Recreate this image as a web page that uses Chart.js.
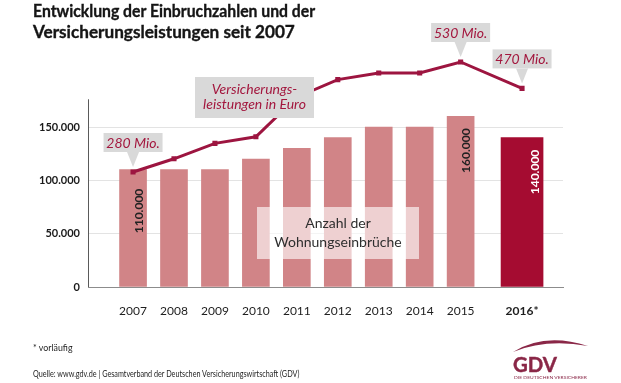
<!DOCTYPE html>
<html>
<head>
<meta charset="utf-8">
<script src="https://cdn.jsdelivr.net/npm/chart.js@4/dist/chart.umd.min.js"></script>
<style>
  html, body { margin: 0; padding: 0; background: #fff; }
  #wrap { position: relative; width: 621px; height: 383px; overflow: hidden; font-family: Lato, "Open Sans", sans-serif; }
  #c { position: absolute; left: 0; top: 0; }
  .txt { position: absolute; white-space: nowrap; transform-origin: left top; }
  .title { left: 33px; font-weight: bold; font-size: 16.5px; line-height: 21px; color: #151515; -webkit-text-stroke: 0.35px #151515; }
  .foot { left: 33px; font-size: 9.5px; line-height: 11px; color: #1e1e1e; }
  svg.logo { position: absolute; left: 0; top: 0; }
</style>
</head>
<body>
<div id="wrap">
  <canvas id="c" width="621" height="383"></canvas>
  <div class="txt title" style="top:1px" data-fit="282">Entwicklung der Einbruchzahlen und der</div>
  <div class="txt title" style="top:22px" data-fit="262">Versicherungsleistungen seit 2007</div>
  <div class="txt foot" style="top:342px" data-fit="40">* vorläufig</div>
  <div class="txt foot" style="top:368px" data-fit="266">Quelle: www.gdv.de | Gesamtverband der Deutschen Versicherungswirtschaft (GDV)</div>
  <svg class="logo" width="621" height="383" viewBox="0 0 621 383">
    <path d="M513,352 Q545,332 588,346 Q546,338.5 513,352 Z" fill="#8a2747"/>
    <text x="513" y="372" font-family="Lato, sans-serif" font-weight="bold" font-size="20" fill="#8a2747" stroke="#8a2747" stroke-width="0.4" textLength="44" lengthAdjust="spacingAndGlyphs">GDV</text>
    <text x="514" y="379" font-family="Lato, sans-serif" font-size="4" fill="#8a2747" textLength="73" lengthAdjust="spacingAndGlyphs">DIE DEUTSCHEN VERSICHERER</text>
  </svg>
</div>
<script>
// ---- data ----
const years = ['2007', '2008', '2009', '2010', '2011', '2012', '2013', '2014', '2015', '2016*'];
const burglaries = [110000, 110000, 110000, 120000, 130000, 140000, 150000, 150000, 160000, 140000];
const benefitsMio = [280, 310, 345, 360, 450, 490, 505, 505, 530, 470];
const yTickValues = [0, 50000, 100000, 150000];
const calloutYears = ['2007', '2015', '2016*'];
const barLabelYears = ['2007', '2015', '2016*'];
const provisionalYear = '2016*';

// fit html text widths
document.querySelectorAll('[data-fit]').forEach(el => {
  const w = el.scrollWidth;
  const target = +el.dataset.fit;
  el.style.transform = 'scaleX(' + (target / w) + ')';
});

const provIdx = years.indexOf(provisionalYear);
const positions = years.map((_, i) => i + (i >= provIdx ? 0.5 : 0));

const lightColor = '#d18487';
const darkColor = '#a50c31';
const lineColor = '#9d1540';
const calloutText = '#a3173e';
const boxGray = '#d9d9d9';

function box(ctx, x, y, w, h, color) {
  ctx.fillStyle = color;
  ctx.fillRect(x, y, w, h);
}

const annot = {
  id: 'annot',
  afterDatasetsDraw(chart) {
    const ctx = chart.ctx;
    const ys = chart.scales.y;
    const ca = chart.chartArea;
    ctx.save();

    // vertical axis line
    ctx.strokeStyle = '#5a5a5a';
    ctx.lineWidth = 1;
    const ax = Math.round(ca.left) + 0.5;
    ctx.beginPath();
    ctx.moveTo(ax, ys.getPixelForValue(176000));
    ctx.lineTo(ax, ys.getPixelForValue(0));
    ctx.stroke();

    // bar value labels (rotated)
    const finMeta = chart.getDatasetMeta(1);
    const provMeta = chart.getDatasetMeta(2);
    barLabelYears.forEach(yr => {
      const i = years.indexOf(yr);
      const el = i === provIdx ? provMeta.data[0] : finMeta.data[i];
      const right = el.x + el.width / 2;
      const off = i === 0 ? 19 : 12;
      ctx.save();
      ctx.translate(right - 4, el.y + off);
      ctx.rotate(-Math.PI / 2);
      ctx.textAlign = 'right';
      ctx.textBaseline = 'alphabetic';
      ctx.font = 'bold 12px Lato, sans-serif';
      ctx.fillStyle = i === provIdx ? '#ffffff' : '#222222';
      ctx.fillText(burglaries[i].toLocaleString('de-DE'), 0, 0);
      ctx.restore();
    });

    // callouts
    const lineMeta = chart.getDatasetMeta(0);
    calloutYears.forEach(yr => {
      const i = years.indexOf(yr);
      const p = lineMeta.data[i];
      const tipY = p.y - 5;
      const bh = 19, bw = 59, th = 15;
      const bottom = tipY - th;
      const left = p.x - bw / 2;
      ctx.fillStyle = boxGray;
      ctx.fillRect(left, bottom - bh, bw, bh);
      ctx.beginPath();
      ctx.moveTo(p.x - 6, bottom);
      ctx.lineTo(p.x + 6, bottom);
      ctx.lineTo(p.x, tipY);
      ctx.closePath();
      ctx.fill();
      ctx.fillStyle = calloutText;
      ctx.font = 'italic 14px Lato, sans-serif';
      ctx.textAlign = 'center';
      ctx.textBaseline = 'middle';
      ctx.fillText(benefitsMio[i] + ' Mio.', p.x, bottom - bh / 2 + 0.5);
    });

    // series label for line
    box(ctx, 195, 77, 119, 41, boxGray);
    ctx.fillStyle = calloutText;
    ctx.font = 'italic 14px Lato, sans-serif';
    ctx.textAlign = 'center';
    ctx.textBaseline = 'middle';
    ctx.fillText('Versicherungs-', 254.5, 89.5);
    ctx.fillText('leistungen in Euro', 254.5, 104.5);

    // series label for bars
    box(ctx, 257, 207, 162, 52, 'rgba(255,255,255,0.62)');
    ctx.fillStyle = '#2e2e2e';
    ctx.font = '14px Lato, sans-serif';
    ctx.fillText('Anzahl der', 338, 223.5);
    ctx.fillText('Wohnungseinbrüche', 338, 242);

    ctx.restore();
  }
};

new Chart(document.getElementById('c'), {
  type: 'bar',
  data: {
    datasets: [
      {
        type: 'line', yAxisID: 'y2', order: 0,
        data: positions.map((x, i) => ({ x, y: benefitsMio[i] })),
        borderColor: lineColor, borderWidth: 3, tension: 0,
        pointStyle: 'rect', pointRadius: 3.6, pointBackgroundColor: lineColor, pointBorderWidth: 0
      },
      {
        type: 'bar', order: 1, grouped: false, barThickness: 27, backgroundColor: lightColor,
        data: positions.slice(0, provIdx).map((x, i) => ({ x, y: burglaries[i] }))
      },
      {
        type: 'bar', order: 1, grouped: false, barThickness: 42, backgroundColor: darkColor,
        data: [{ x: positions[provIdx], y: burglaries[provIdx] }]
      }
    ]
  },
  options: {
    responsive: false,
    animation: false,
    layout: { padding: { left: 38, right: 58, top: 41.67, bottom: 66 } },
    plugins: { legend: { display: false }, tooltip: { enabled: false } },
    scales: {
      x: {
        type: 'linear', min: -1.1, max: 10.5, offset: false,
        grid: { display: false, offset: false },
        border: { display: true, color: '#8c8c8c' },
        afterBuildTicks: s => { s.ticks = positions.map(v => ({ value: v })); },
        afterFit: s => { s.height = 30; },
        ticks: {
          autoSkip: false, maxRotation: 0, minRotation: 0, padding: 9, color: '#1e1e1e',
          font: c => ({ family: 'Lato', size: 12, weight: c.index === provIdx ? 'bold' : 'normal' }),
          callback: (v, i) => years[i]
        }
      },
      y: {
        min: 0, max: 230000,
        afterBuildTicks: s => { s.ticks = yTickValues.map(v => ({ value: v })); },
        afterFit: s => { s.width = 50; },
        grid: { color: c => (c.tick && c.tick.value === 0) ? 'rgba(0,0,0,0)' : '#e3e3e3', drawTicks: false },
        border: { display: false },
        ticks: {
          padding: 8, color: '#1a1a1a',
          font: { family: 'Lato', size: 11, weight: 'bold' },
          callback: v => v.toLocaleString('de-DE')
        }
      },
      y2: { display: false, min: 18.6, max: 576.2 }
    }
  },
  plugins: [annot]
});
</script>
</body>
</html>
